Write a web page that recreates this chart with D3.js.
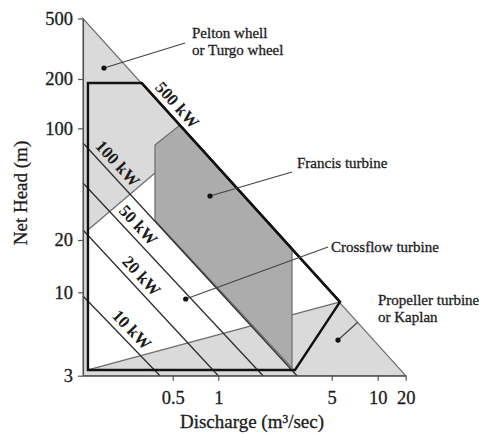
<!DOCTYPE html>
<html><head><meta charset="utf-8">
<script src="https://cdn.jsdelivr.net/npm/d3@7/dist/d3.min.js"></script>
<style>
body{margin:0;background:#fff}
svg{display:block}
text{font-family:"Liberation Serif","Times New Roman",serif;fill:#1c1c1c;stroke:#1c1c1c;stroke-width:0.3px}
</style>
</head><body>
<svg id="chart" width="479" height="435"></svg>
<script>
// ---- data (discharge Q in m3/s, net head H in m) ----
const xTickValues = [0.5, 1, 5, 10, 20];
const xTickLabels = ["0.5", "1", "5", "10", "20"];
const yTickValues = [3, 10, 20, 100, 200, 500];
const yTickLabels = ["3", "10", "20", "100", "200", "500"];
const qMin = 0.128, qMax = 20, hMin = 3, hMax = 500;

const outerTriangle = [[0.128, 500], [0.128, 3], [20, 3]];
const microHydroBox = [[0.138, 189], [0.312, 189], [5.665, 8.70], [2.97, 3.26], [0.138, 3.26]];
const crossflowRegion = [[0.138, 23.1], [0.382, 52.5], [0.48, 52.5], [2.847, 17.97], [5.665, 8.70], [0.138, 3.26]];
const francisRegion = [[0.382, 78.6], [0.5587, 104.7], [2.847, 17.97], [2.847, 3.353], [0.382, 26.5]];
const peltonBoundary = [[0.138, 23.1], [0.382, 52.5]];
const kaplanBoundary = [[0.138, 3.26], [5.665, 8.70]];

const powerNames = ["500 kW", "100 kW", "50 kW", "20 kW", "10 kW"];
const powerStarts = [[0.312, 189], [0.128, 80.9], [0.128, 45.5], [0.128, 23.1], [0.128, 9.48]];
const powerEnds = [[5.665, 8.70], [3.055, 3], [1.886, 3], [1.0, 3], [0.412, 3]];
const powerLabelAt = [0.136, 0.122, 0.26, 0.37, 0.525];

const annotationTexts = [["Pelton whell", "or Turgo wheel"], ["Francis turbine"], ["Crossflow turbine"], ["Propeller turbine", "or Kaplan"]];
const annotationDots = [[0.176, 236.3], [0.8814, 37.7], [0.609, 9.08], [5.498, 5.02]];
const annotationEnds = [[0.603, 345], [2.847, 53.3], [4.746, 18.23], [7.43, 6.51]];

// ---- scales ----
const x = d3.scaleLog().domain([qMin, 0.5, 1, 5, 10, qMax]).range([83, 172.7, 218.3, 331.7, 377.7, 405.7]);
const y = d3.scaleLog().domain([hMin, 10, 20, 100, 200, hMax]).range([375.7, 292.3, 240, 128.3, 79, 18.5]);
const pt = d => [x(d[0]), y(d[1])];
const line = d3.line().x(d => x(d[0])).y(d => y(d[1]));
const poly = pts => line(pts) + "Z";

const svg = d3.select("#chart");
const LIGHT = "#dadada", DARK = "#acacac", EDGE = "#6c6c6c";

svg.append("path").attr("d", poly(outerTriangle)).attr("fill", LIGHT).attr("stroke", EDGE).attr("stroke-width", 1.2);
svg.append("path").attr("d", poly(crossflowRegion)).attr("fill", "#ffffff").attr("stroke", "none");
svg.append("path").attr("d", line(peltonBoundary)).attr("fill", "none").attr("stroke", EDGE).attr("stroke-width", 1.2);
svg.append("path").attr("d", line(kaplanBoundary)).attr("fill", "none").attr("stroke", EDGE).attr("stroke-width", 1.2);
svg.append("path").attr("d", poly(francisRegion)).attr("fill", DARK).attr("stroke", EDGE).attr("stroke-width", 1.2);

// power lines
powerNames.forEach((name, i) => {
  const a = pt(powerStarts[i]), b = pt(powerEnds[i]);
  const bold = i === 0;
  svg.append("line").attr("x1", a[0]).attr("y1", a[1]).attr("x2", b[0]).attr("y2", b[1])
    .attr("stroke", bold ? "#111" : "#2e2e2e").attr("stroke-width", bold ? 2.4 : 1.3);
  const t = powerLabelAt[i];
  const px = a[0] + (b[0] - a[0]) * t, py = a[1] + (b[1] - a[1]) * t;
  const ang = Math.atan2(b[1] - a[1], b[0] - a[0]);
  const off = 11.5;
  const cx = px + Math.sin(ang) * off, cy = py - Math.cos(ang) * off;
  svg.append("text").attr("transform", `translate(${cx},${cy}) rotate(${ang * 180 / Math.PI})`)
    .attr("text-anchor", "middle").attr("dominant-baseline", "central")
    .attr("font-size", 17).attr("font-weight", "bold").style("stroke-width", "0px").text(name);
});

// bold micro-hydro outline
svg.append("path").attr("d", poly(microHydroBox)).attr("fill", "none").attr("stroke", "#111").attr("stroke-width", 2.4).attr("stroke-linejoin", "miter");

// axes
const xAxis = d3.axisBottom(x).tickValues(xTickValues).tickFormat((d, i) => xTickLabels[i]).tickSize(5).tickSizeOuter(0);
const yAxis = d3.axisLeft(y).tickValues(yTickValues).tickFormat((d, i) => yTickLabels[i]).tickSize(5).tickSizeOuter(0);
const gx = svg.append("g").attr("transform", `translate(0,${y(hMin)})`).call(xAxis);
const gy = svg.append("g").attr("transform", `translate(${x(qMin)},0)`).call(yAxis);
[gx, gy].forEach(g => {
  g.select(".domain").attr("stroke", "#555").attr("stroke-width", 1.2);
  g.selectAll(".tick line").attr("stroke", "#555").attr("stroke-width", 1.2);
  g.selectAll(".tick text").attr("font-family", "Liberation Serif").attr("font-size", 18.5).attr("fill", "#1c1c1c");
});
gx.selectAll(".tick text").attr("dy", "0.71em").attr("y", 15);
gy.selectAll(".tick text").attr("x", -10);

svg.append("text").attr("x", 252).attr("y", 428).attr("text-anchor", "middle").attr("font-size", 19).text("Discharge (m³/sec)");
svg.append("text").attr("transform", "translate(27,193) rotate(-90)").attr("text-anchor", "middle").attr("font-size", 19).text("Net Head (m)");

// annotations
const annOffsets = [[7, -5], [5, -4], [3, 5], [20, -17]];
annotationTexts.forEach((lines, i) => {
  const d = pt(annotationDots[i]), e = pt(annotationEnds[i]);
  svg.append("line").attr("x1", d[0]).attr("y1", d[1]).attr("x2", e[0]).attr("y2", e[1]).attr("stroke", "#444").attr("stroke-width", 1.2);
  svg.append("circle").attr("cx", d[0]).attr("cy", d[1]).attr("r", 2.6).attr("fill", "#111");
  const tx = svg.append("text").attr("x", e[0] + annOffsets[i][0]).attr("y", e[1] + annOffsets[i][1]).attr("font-size", 15);
  lines.forEach((s, j) => tx.append("tspan").attr("x", e[0] + annOffsets[i][0]).attr("dy", j === 0 ? 0 : 17).text(s));
});
</script>
</body></html>
